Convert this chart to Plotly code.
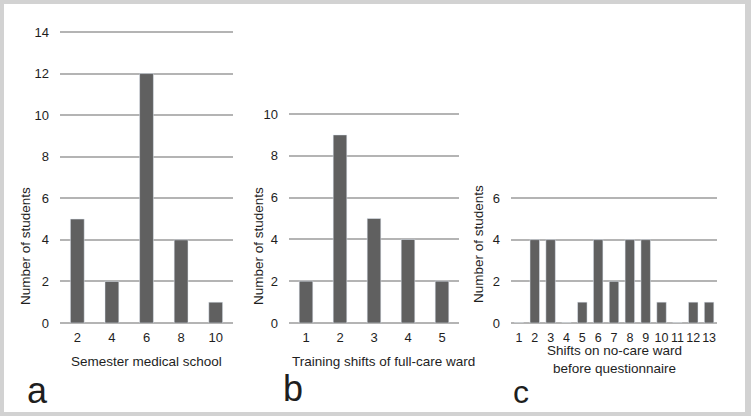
import plotly.graph_objects as go

W, H = 751, 416

# Data
cat_a = ["2", "4", "6", "8", "10"]
val_a = [5, 2, 12, 4, 1]
cat_b = ["1", "2", "3", "4", "5"]
val_b = [2, 9, 5, 4, 2]
cat_c = [str(i) for i in range(1, 14)]
val_c = [0, 4, 4, 0, 1, 4, 2, 4, 4, 1, 0, 1, 1]
ymax_a, ymax_b, ymax_c = 14, 10, 6

BAR = "#606060"
GRID = "#b4b4b4"
TXT = "#1e1e1e"
FONT = "Liberation Sans, Arial, sans-serif"

def px_x(x):
    return x / W

def px_y(y):
    return 1 - y / H

fig = go.Figure()
fig.add_trace(go.Bar(x=cat_a, y=val_a, marker_color=BAR, xaxis="x", yaxis="y", width=0.4))
fig.add_trace(go.Bar(x=cat_b, y=val_b, marker_color=BAR, xaxis="x2", yaxis="y2", width=0.4))
fig.add_trace(go.Bar(x=cat_c, y=val_c, marker_color=BAR, xaxis="x3", yaxis="y3", width=0.6))

def xax(x0, x1, anchor, cats, size=13):
    return dict(domain=[px_x(x0), px_x(x1)], anchor=anchor, type="category",
                tickmode="array", tickvals=cats, ticktext=cats, tickangle=0,
                showgrid=False, showline=False, ticks="", zeroline=False,
                automargin=False,
                tickfont=dict(size=size, color=TXT, family=FONT), ticklabelstandoff=5,
                fixedrange=True)

UNIT = 20.8  # pixels per unit

def yax(ytop_px, ymax, anchor):
    pad = 0.1
    return dict(domain=[px_y(323), px_y(ytop_px - pad * UNIT)], anchor=anchor,
                range=[0, ymax + pad], dtick=2,
                showgrid=True, gridcolor=GRID, gridwidth=2, zeroline=True,
                zerolinecolor=GRID, zerolinewidth=2, showline=False, ticks="",
                automargin=False,
                tickfont=dict(size=13, color=TXT, family=FONT), ticklabelstandoff=10,
                fixedrange=True)

fig.update_layout(
    width=W, height=H, margin=dict(l=0, r=0, t=0, b=0),
    paper_bgcolor="#d2d2d2", plot_bgcolor="rgba(0,0,0,0)",
    showlegend=False,
    font=dict(family=FONT, color=TXT),
    xaxis=xax(60, 233, "y", cat_a),
    yaxis=yax(32, ymax_a, "x"),
    xaxis2=xax(289, 459, "y2", cat_b),
    yaxis2=yax(114, ymax_b, "x2"),
    xaxis3=xax(511, 717, "y3", cat_c, 12.5),
    yaxis3=yax(198, ymax_c, "x3"),
)

fig.add_shape(type="rect", xref="paper", yref="paper",
              x0=px_x(4), x1=px_x(745), y0=px_y(412), y1=px_y(4),
              fillcolor="white", line_width=0, layer="below")

def ann(text, x, y, size, angle=0, xanchor="center", yanchor="middle"):
    fig.add_annotation(text=text, x=px_x(x), y=px_y(y), xref="paper", yref="paper",
                       showarrow=False, textangle=angle, xanchor=xanchor, yanchor=yanchor,
                       font=dict(size=size, color=TXT, family=FONT))

# y titles
ann("Number of students", 25, 246, 13.5, -90)
ann("Number of students", 258, 246, 13.5, -90)
ann("Number of students", 478, 244, 13.5, -90)
# x titles
ann("Semester medical school", 146, 361, 13.5)
ann("Training shifts of full-care ward", 383, 361, 13.5)
ann("Shifts on no-care ward<br>before questionnaire", 614, 359, 13.5)
# panel letters
ann("a", 37, 390, 36)
ann("b", 293, 388, 36)
ann("c", 521, 392, 32)

fig.write_html("out.html")
